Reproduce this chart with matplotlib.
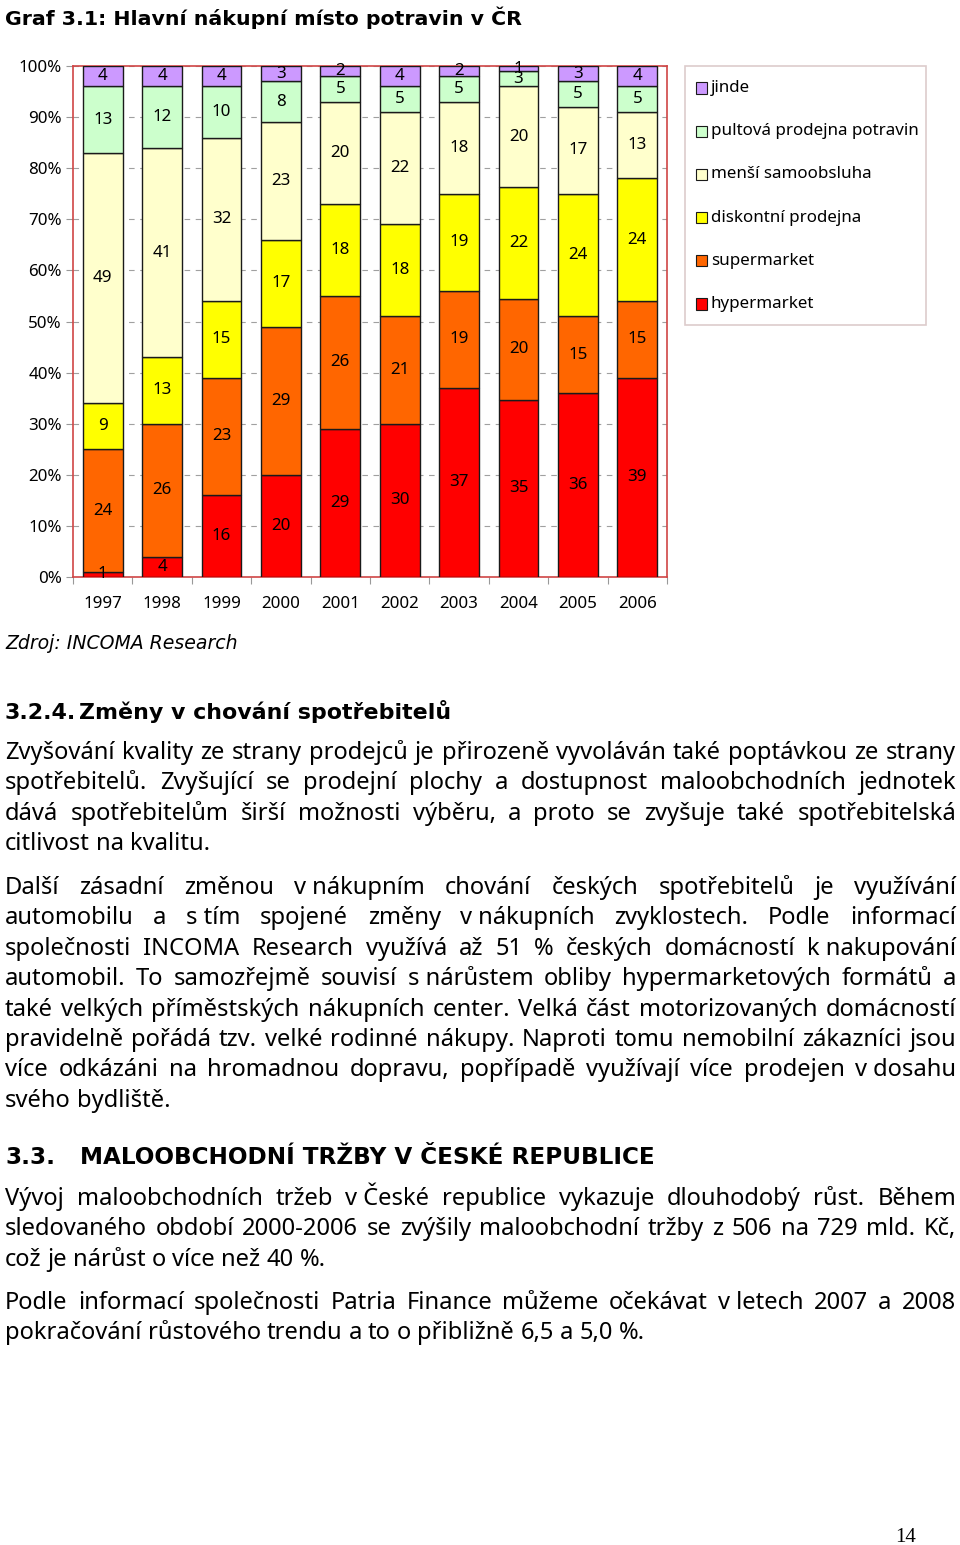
import matplotlib
matplotlib.use('Agg')
import matplotlib.pyplot as plt
from matplotlib.patches import Rectangle
import numpy as np

W, H = 960, 1545

# data (graf 3.1, v %)
roky = ['1997', '1998', '1999', '2000', '2001', '2002', '2003', '2004', '2005', '2006']
hypermarket = [1, 4, 16, 20, 29, 30, 37, 35, 36, 39]
supermarket = [24, 26, 23, 29, 26, 21, 19, 20, 15, 15]
diskont = [9, 13, 15, 17, 18, 18, 19, 22, 24, 24]
samoobsluha = [49, 41, 32, 23, 20, 22, 18, 20, 17, 13]
pultova = [13, 12, 10, 8, 5, 5, 5, 3, 5, 5]
jinde = [4, 4, 4, 3, 2, 4, 2, 1, 3, 4]

rady = [hypermarket, supermarket, diskont, samoobsluha, pultova, jinde]
nazvy = ['hypermarket', 'supermarket', 'diskontní prodejna', 'menší samoobsluha',
         'pultová prodejna potravin', 'jinde']
barvy = ['#FF0000', '#FF6600', '#FFFF00', '#FFFFCC', '#CCFFCC', '#CC99FF']

# texty stranky
odst1 = ["Zvyšování kvality ze strany prodejců je přirozeně vyvoláván také poptávkou ze strany",
         "spotřebitelů. Zvyšující se prodejní plochy a dostupnost maloobchodních jednotek",
         "dává spotřebitelům širší možnosti výběru, a proto se zvyšuje také spotřebitelská",
         "citlivost na kvalitu."]
odst2 = ["Další zásadní změnou v\u00a0nákupním chování českých spotřebitelů je využívání",
         "automobilu a s\u00a0tím spojené změny v\u00a0nákupních zvyklostech. Podle informací",
         "společnosti INCOMA Research využívá až 51 % českých domácností k\u00a0nakupování",
         "automobil. To samozřejmě souvisí s\u00a0nárůstem obliby hypermarketových formátů a",
         "také velkých příměstských nákupních center. Velká část motorizovaných domácností",
         "pravidelně pořádá tzv. velké rodinné nákupy. Naproti tomu nemobilní zákazníci jsou",
         "více odkázáni na hromadnou dopravu, popřípadě využívají více prodejen v\u00a0dosahu",
         "svého bydliště."]
odst3 = ["Vývoj maloobchodních tržeb v\u00a0České republice vykazuje dlouhodobý růst. Během",
         "sledovaného období 2000-2006 se zvýšily maloobchodní tržby z 506 na 729 mld. Kč,",
         "což je nárůst o více než 40 %."]
odst4 = ["Podle informací společnosti Patria Finance můžeme očekávat v\u00a0letech 2007 a 2008",
         "pokračování růstového trendu a to o přibližně 6,5 a 5,0 %."]

fig = plt.figure(figsize=(W / 100, H / 100), dpi=100)
r = fig.canvas.get_renderer()


def fx(x):
    return x / W


def fy(y):
    return 1 - y / H


def sirka(s, size, **kw):
    t = fig.text(0, 0, s, fontsize=size, **kw)
    w = t.get_window_extent(renderer=r).width
    t.remove()
    return w


def velikost(s, px, **kw):
    return 20 * px / sirka(s, 20, **kw)


SANS = 'Noto Sans'
BOLD = dict(family='DejaVu Sans', weight='bold')

fs_graf = velikost('pultová prodejna potravin', 207, family=SANS)
fs_text = velikost('citlivost na kvalitu.', 205, family=SANS)

#+--- graf ---+#
soucty = np.sum(rady, axis=0)
ax = fig.add_axes([fx(73), fy(577), 594 / W, 511 / H])
x = np.arange(len(roky))
spodek = np.zeros(len(roky))
for rada, barva in zip(rady, barvy):
    pct = np.array(rada) / soucty * 100
    ax.bar(x, pct, 0.67, bottom=spodek, color=barva, edgecolor='#1a1a1a',
           linewidth=1.0, zorder=3)
    for xi, b, p, v in zip(x, spodek, pct, rada):
        ax.text(xi, b + p / 2, str(v), ha='center', va='center',
                fontsize=fs_graf, family=SANS, zorder=4)
    spodek += pct

ax.set_xlim(-0.5, len(roky) - 0.5)
ax.set_ylim(0, 100)
ax.set_yticks(np.arange(0, 101, 10))
ax.set_yticklabels([f'{v}%' for v in range(0, 101, 10)], fontsize=fs_graf, family=SANS)
ax.yaxis.grid(True, linestyle=(0, (5, 5)), color='#a0a0a0', linewidth=0.8, zorder=0)
ax.tick_params(axis='y', length=5, color='#999999', pad=3)

ax.set_xticks(np.arange(-0.5, len(roky)), minor=False)
ax.set_xticklabels([])
ax.set_xticks(x, minor=True)
ax.set_xticklabels(roky, minor=True, fontsize=fs_graf, family=SANS)
ax.tick_params(axis='x', which='major', length=5, color='#999999')
ax.tick_params(axis='x', which='minor', length=0, pad=14)

for s in ax.spines.values():
    s.set_color('#D04545')
    s.set_linewidth(1.2)

# legenda
fig.patches.append(Rectangle((fx(685), fy(325)), 241 / W, 259 / H, transform=fig.transFigure,
                             fill=False, edgecolor='#DDCCCC', linewidth=1.2))
for i, (nazev, barva) in enumerate(zip(nazvy[::-1], barvy[::-1])):
    yc = 88 + i * 43.2
    fig.patches.append(Rectangle((fx(696), fy(yc + 5.5)), 11 / W, 11 / H,
                                 transform=fig.transFigure, facecolor=barva,
                                 edgecolor='#1a1a1a', linewidth=0.8))
    fig.text(fx(711), fy(yc), nazev, va='center', fontsize=fs_graf, family=SANS)

#+--- texty ---+#
titul = 'Graf 3.1: Hlavní nákupní místo potravin v ČR'
fig.text(fx(5), fy(25), titul, va='baseline', fontsize=velikost(titul, 516, **BOLD), **BOLD)

zdroj = 'Zdroj: INCOMA Research'
fs_z = velikost(zdroj, 232, family='DejaVu Sans', style='italic')
fig.text(fx(5), fy(649), zdroj, va='baseline', fontsize=fs_z, family='DejaVu Sans', style='italic')

nadpis1 = 'Změny v chování spotřebitelů'
fs_n1 = velikost(nadpis1, 373, **BOLD)
fig.text(fx(5), fy(719), '3.2.4.', va='baseline', fontsize=fs_n1, **BOLD)
fig.text(fx(79), fy(719), nadpis1, va='baseline', fontsize=fs_n1, **BOLD)

nadpis2 = 'MALOOBCHODNÍ TRŽBY V ČESKÉ REPUBLICE'
fs_n2 = velikost(nadpis2, 572, **BOLD)
fig.text(fx(5), fy(1164), '3.3.', va='baseline', fontsize=fs_n2, **BOLD)
fig.text(fx(80), fy(1164), nadpis2, va='baseline', fontsize=fs_n2, **BOLD)

X0, X1 = 5, 956
mezera = sirka('a a', fs_text, family=SANS) - sirka('aa', fs_text, family=SANS)


def odstavec(radky, y0, krok):
    for i, radek in enumerate(radky):
        y = y0 + i * krok
        slova = radek.split(' ')
        sirky = [sirka(s, fs_text, family=SANS) for s in slova]
        if i == len(radky) - 1 or len(slova) == 1:
            gap = mezera
        else:
            gap = (X1 - X0 - sum(sirky)) / (len(slova) - 1)
        xx = X0
        for s, w in zip(slova, sirky):
            fig.text(fx(xx), fy(y), s, va='baseline', fontsize=fs_text, family=SANS)
            xx += w + gap


odstavec(odst1, 759, 30.4)
odstavec(odst2, 894, 30.4)
odstavec(odst3, 1205, 30.4)
odstavec(odst4, 1309, 30.4)

fig.text(fx(895), fy(1542), '14', va='baseline', fontsize=15, family='Liberation Serif')

fig.savefig('out.png', dpi=100)
